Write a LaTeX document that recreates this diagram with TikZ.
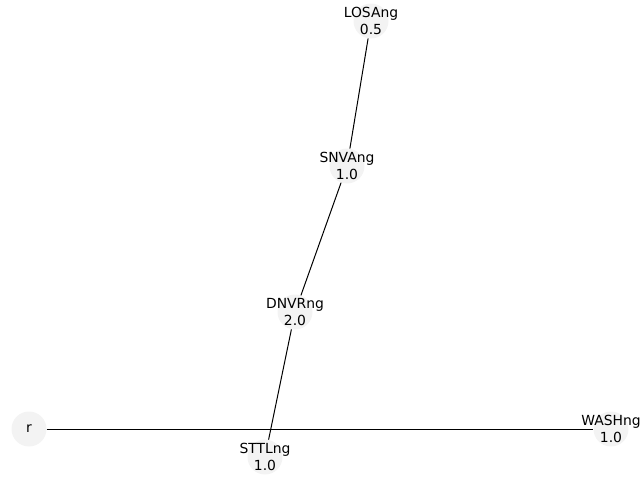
\documentclass[tikz,border=0pt]{standalone}
\usepackage{fontspec}
\setmainfont{DejaVu Sans}
\definecolor{nodegrey}{HTML}{F3F3F3}

\begin{document}
\begin{tikzpicture}[x=1pt, y=-1pt,
    station/.style={circle, fill=nodegrey, minimum size=35pt, inner sep=0pt},
    tag/.style={align=center, inner sep=0pt, font=\fontsize{13.9}{16.2}\selectfont},
    link/.style={draw=black, line width=1pt}]
    \useasboundingbox (0,0) rectangle (640,480);

    % stations
    \node[station] (r)    at (29,429)  {};
    \node[station] (sttl) at (265,457) {};
    \node[station] (wash) at (611,429) {};
    \node[station] (dnvr) at (295,312) {};
    \node[station] (snva) at (347,166) {};
    \node[station] (losa) at (371,21)  {};

    % links
    \draw[link] (r) -- (wash);
    \draw[link] (sttl) -- (dnvr);
    \draw[link] (dnvr) -- (snva);
    \draw[link] (snva) -- (losa);

    % labels
    \node[tag] at (r)    {r};
    \node[tag] at (sttl) {STTLng\\1.0};
    \node[tag] at (wash) {WASHng\\1.0};
    \node[tag] at (dnvr) {DNVRng\\2.0};
    \node[tag] at (snva) {SNVAng\\1.0};
    \node[tag] at (losa) {LOSAng\\0.5};
\end{tikzpicture}
\end{document}
